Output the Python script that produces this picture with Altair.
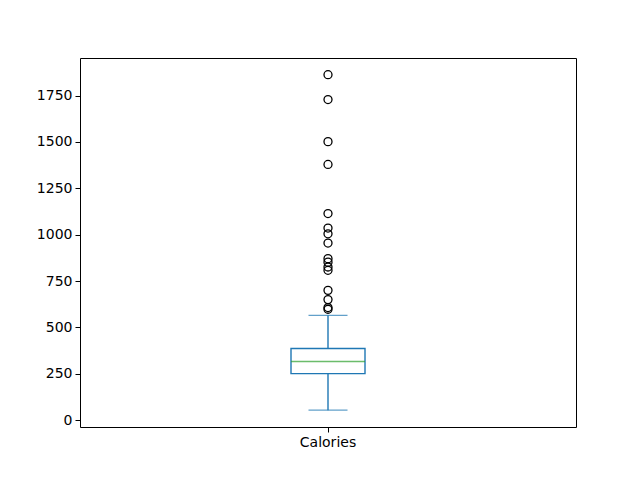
import altair as alt
import pandas as pd

category = ["Calories"]
whisker_low = [54]
q1 = [251]
median = [316]
q3 = [386]
whisker_high = [565]
outliers = [1863, 1729, 1502, 1379, 1114, 1036, 1005, 955, 871, 852, 826,
            808, 700, 650, 607, 598]
y_ticks = [0, 250, 500, 750, 1000, 1250, 1500, 1750]

box_df = pd.DataFrame({"cat": category, "lo": whisker_low, "q1": q1,
                       "med": median, "q3": q3, "hi": whisker_high})
out_df = pd.DataFrame({"cat": category * len(outliers), "val": outliers})

BLUE = "#1f77b4"
GREEN = "#2ca02c"
LW = 1.4

x = alt.X("cat:N", title=None, scale=alt.Scale(domain=category),
          axis=alt.Axis(labelAngle=0, labelPadding=3))
yscale = alt.Scale(domain=[-37, 1953], nice=False, zero=False)
yaxis = alt.Axis(values=y_ticks, title=None, grid=False, labelPadding=3,
                 format="d")

base = alt.Chart(box_df)

whisk_hi = base.mark_rule(color=BLUE, strokeWidth=LW).encode(
    x=x, y=alt.Y("q3:Q", scale=yscale, axis=yaxis), y2="hi:Q")
whisk_lo = base.mark_rule(color=BLUE, strokeWidth=LW).encode(
    x=x, y=alt.Y("lo:Q", scale=yscale), y2="q1:Q")
box = base.mark_bar(size=74, fill="white", stroke=BLUE, strokeWidth=LW).encode(
    x=x, y=alt.Y("q1:Q", scale=yscale), y2="q3:Q")
med = base.mark_tick(size=74, thickness=LW, color=GREEN).encode(
    x=x, y=alt.Y("med:Q", scale=yscale))
cap_hi = base.mark_tick(size=39, thickness=LW, color=BLUE).encode(
    x=x, y=alt.Y("hi:Q", scale=yscale))
cap_lo = base.mark_tick(size=39, thickness=LW, color=BLUE).encode(
    x=x, y=alt.Y("lo:Q", scale=yscale))
pts = alt.Chart(out_df).mark_point(shape="circle", filled=False, color="black",
                                   size=64, strokeWidth=1.3, opacity=1).encode(
    x=x, y=alt.Y("val:Q", scale=yscale))

chart = alt.layer(whisk_hi, whisk_lo, box, med, cap_hi, cap_lo, pts).properties(
    width=496, height=369,
    padding={"left": 80, "top": 58, "right": 64, "bottom": 53},
    autosize="none",
    background="white",
).configure_view(stroke="black", strokeWidth=1).configure_axis(
    domain=False, tickColor="black", tickSize=5, tickWidth=1,
    labelFont="DejaVu Sans", labelFontSize=14, labelColor="black",
)

chart.save("out.html", embed_options={"renderer": "svg", "actions": False})
